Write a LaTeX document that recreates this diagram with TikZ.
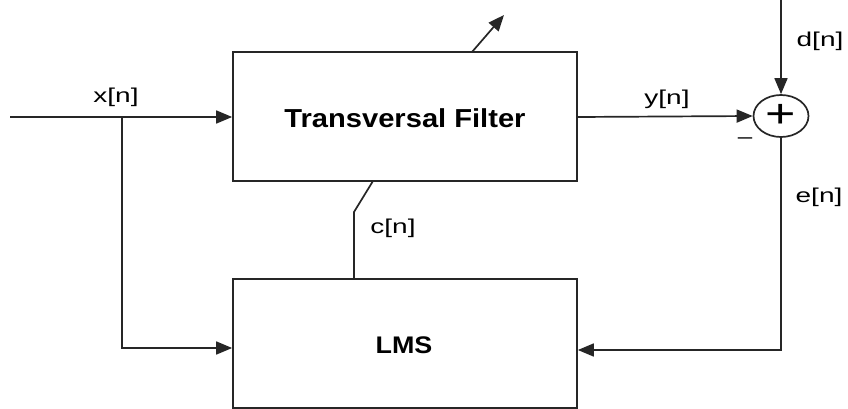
\documentclass[tikz,border=0pt]{standalone}
\usepackage{fontspec}
\setmainfont{Liberation Sans}
\usetikzlibrary{arrows.meta,shapes.geometric}
\newcommand\widelbl[1]{\scalebox{1.4}[1]{#1}}
\newcommand\widebold[1]{\scalebox{1.12}[1]{\bfseries #1}}
\begin{document}
\begin{tikzpicture}[x=1pt,y=-1pt,
  wire/.style={line width=1.7pt,draw=black!85},
  arr/.style={wire,-{Triangle[length=16pt,width=13pt]}},
  blockbox/.style={draw=black!85,line width=1.7pt,minimum width=344pt,minimum height=129pt,inner sep=0pt},
  lbl/.style={font=\fontsize{20}{22}\selectfont,inner sep=0pt},
  bigtxt/.style={font=\fontsize{26}{28}\selectfont,inner sep=0pt}]
\useasboundingbox (0,0) rectangle (848,409);
\node[blockbox] (filter) at (405,116.5) {};
\node[bigtxt] (ftxt) at (405,118) {\widebold{Transversal Filter}};
\node[blockbox] (lms) at (405,343.5) {};
\node[bigtxt,font=\fontsize{24}{26}\selectfont] (ltxt) at (404,345) {\widebold{LMS}};
\node[draw=black!85,line width=1.7pt,ellipse,minimum width=55pt,minimum height=42pt,inner sep=0pt] (sum) at (781,116) {};
\node[inner sep=0pt,font=\fontsize{40}{42}\selectfont] (plus) at (781,116) {\scalebox{1.3}[1]{+}};
\coordinate (in) at (10,117);
\coordinate (br) at (122,117);
\coordinate (dtop) at (781,0);
\coordinate (ecorner) at (781,350);
\coordinate (cbend) at (354,212);
\coordinate (ctop) at (373,181);
\coordinate (cbot) at (354,279);
\coordinate (wbase) at (472,52);
\coordinate (wtip) at (504,15);
\draw[arr] (in) -- (in -| filter.west);
\draw[arr] (br) |- (lms.west |- 0,348);
\draw[arr] (filter.east |- 0,117) -- (sum.west);
\draw[arr] (dtop) -- (sum.north);
\draw[arr] (sum.south) -- (ecorner) -- (ecorner -| lms.east);
\draw[wire] (cbot) -- (cbend) -- (ctop);
\draw[arr] (wbase) -- (wtip);
\node[lbl] (xl) at (116,97) {\widelbl{x[n]}};
\node[lbl] (yl) at (667,99) {\widelbl{y[n]}};
\node[lbl] (dl) at (820,41) {\widelbl{d[n]}};
\node[lbl] (el) at (819,197) {\widelbl{e[n]}};
\node[lbl] (cl) at (393,228) {\widelbl{c[n]}};
\node[lbl] (minus) at (745,141) {\scalebox{1.3}[1]{–}};
\end{tikzpicture}
\end{document}
